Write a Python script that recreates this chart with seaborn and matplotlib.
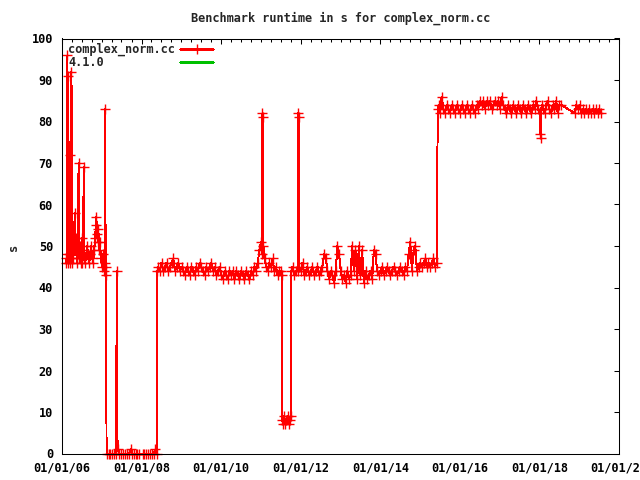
import matplotlib
matplotlib.use("Agg")
import matplotlib.pyplot as plt
import matplotlib.dates as mdates
import pandas as pd
import seaborn as sns

# benchmark runs, grouped by era
dates_2006 = [
    "2006-02-06", "2006-02-09", "2006-02-13", "2006-02-20", "2006-02-24", "2006-02-28",
    "2006-03-05", "2006-03-11", "2006-03-20", "2006-03-23", "2006-03-29", "2006-04-03",
    "2006-04-10", "2006-04-16", "2006-04-21", "2006-04-28", "2006-05-04", "2006-05-09",
    "2006-05-16", "2006-05-22", "2006-05-27", "2006-06-02", "2006-06-08", "2006-06-14",
    "2006-06-20", "2006-06-26", "2006-07-01", "2006-07-07", "2006-07-14", "2006-07-19",
    "2006-07-25", "2006-08-03", "2006-08-12", "2006-08-21", "2006-08-30", "2006-09-08",
    "2006-09-17", "2006-09-26", "2006-10-05", "2006-10-14", "2006-10-23", "2006-11-01",
    "2006-11-07", "2006-11-12", "2006-11-19", "2006-11-25", "2006-12-01", "2006-12-07",
    "2006-12-16", "2006-12-25", "2007-01-03", "2007-01-12", "2007-01-21", "2007-01-27",
    "2007-02-01", "2007-02-06", "2007-02-10",
]
runtime_2006 = [
    47, 46, 48, 96, 46, 91,
    48, 46, 72, 47, 92, 46,
    50, 47, 52, 58, 49, 52,
    46, 51, 48, 70, 47, 50,
    46, 48, 52, 46, 49, 69,
    47, 46, 48, 50, 47, 46,
    48, 50, 47, 46, 49, 52,
    55, 57, 53, 51, 54, 49,
    51, 47, 45, 48, 44, 46,
    83, 43, 45,
]

dates_2007 = [
    "2007-02-14", "2007-03-04", "2007-03-22", "2007-04-09", "2007-04-27", "2007-05-12",
    "2007-05-19", "2007-05-26", "2007-06-12", "2007-06-30", "2007-07-18", "2007-08-05",
    "2007-08-23", "2007-09-10", "2007-09-24", "2007-10-06", "2007-10-24", "2007-11-08",
    "2007-11-24", "2007-12-10", "2008-01-10", "2008-01-26", "2008-02-12", "2008-02-28",
    "2008-03-17", "2008-04-04", "2008-04-22", "2008-05-08", "2008-05-18",
]
runtime_2007 = [
    0, 0, 0, 0, 0, 0,
    44, 1, 0, 0, 0, 0,
    0, 0, 1, 0, 0, 0,
    0, 0, 0, 0, 0, 0,
    0, 0, 0, 1, 0,
]

dates_2008 = [
    "2008-05-26", "2008-06-03", "2008-06-18", "2008-07-03", "2008-07-18", "2008-08-03",
    "2008-08-18", "2008-09-03", "2008-09-18", "2008-10-03", "2008-10-18", "2008-11-03",
    "2008-11-18", "2008-12-03", "2008-12-18", "2009-01-03", "2009-01-18", "2009-02-03",
    "2009-02-18", "2009-03-03", "2009-03-18", "2009-04-03", "2009-04-18", "2009-05-03",
    "2009-05-18", "2009-06-03", "2009-06-18", "2009-07-03", "2009-07-18", "2009-08-03",
    "2009-08-18", "2009-09-03", "2009-09-18", "2009-10-03", "2009-10-18", "2009-11-03",
    "2009-11-18", "2009-12-03", "2009-12-18", "2010-01-03", "2010-01-18", "2010-02-03",
    "2010-02-18", "2010-03-03", "2010-03-18", "2010-04-03", "2010-04-18", "2010-05-03",
    "2010-05-18", "2010-06-03", "2010-06-18", "2010-07-03", "2010-07-18", "2010-08-03",
    "2010-08-18", "2010-09-03", "2010-09-18", "2010-10-03", "2010-10-18", "2010-11-03",
    "2010-11-18", "2010-12-03", "2010-12-18", "2011-01-03", "2011-01-10", "2011-01-15",
    "2011-01-18", "2011-01-24", "2011-02-03", "2011-02-18", "2011-03-03", "2011-03-18",
    "2011-04-03", "2011-04-18", "2011-05-03", "2011-05-18", "2011-06-03", "2011-06-18",
    "2011-07-03", "2011-07-10",
]
runtime_2008 = [
    44, 45, 44, 46, 44, 45,
    46, 44, 45, 46, 47, 44,
    45, 46, 44, 45, 44, 43,
    45, 44, 43, 45, 44, 43,
    45, 44, 46, 45, 44, 43,
    45, 44, 45, 46, 44, 45,
    43, 44, 45, 43, 42, 44,
    43, 42, 44, 43, 44, 42,
    44, 43, 42, 44, 43, 42,
    44, 43, 42, 44, 43, 45,
    44, 46, 49, 51, 48, 82,
    81, 50, 47, 45, 44, 46,
    45, 47, 44, 45, 43, 44,
    44, 43,
]

dates_2011 = [
    "2011-07-14", "2011-07-24", "2011-08-03", "2011-08-13", "2011-08-23", "2011-09-02",
    "2011-09-12", "2011-09-22", "2011-10-02",
]
runtime_2011 = [8, 7, 9, 7, 8, 9, 7, 8, 9]

dates_2012 = [
    "2011-10-08", "2011-10-18", "2011-11-03", "2011-11-18", "2011-12-03", "2011-12-08",
    "2011-12-13", "2011-12-18", "2012-01-03", "2012-01-18", "2012-02-03", "2012-02-18",
    "2012-03-03", "2012-03-18", "2012-04-03", "2012-04-18", "2012-05-03", "2012-05-18",
    "2012-06-03", "2012-06-18", "2012-07-03", "2012-07-18", "2012-08-03", "2012-08-18",
    "2012-09-03", "2012-09-18", "2012-10-03", "2012-10-18", "2012-11-03", "2012-11-18",
    "2012-12-03", "2012-12-18", "2013-01-03", "2013-01-18", "2013-02-03", "2013-02-18",
    "2013-03-03", "2013-03-18", "2013-04-03", "2013-04-18", "2013-05-03", "2013-05-18",
    "2013-06-03", "2013-06-18", "2013-07-03", "2013-07-18", "2013-08-03", "2013-08-18",
    "2013-09-03", "2013-09-18", "2013-10-03", "2013-10-18", "2013-11-03", "2013-11-18",
    "2013-12-03", "2013-12-18", "2014-01-03", "2014-01-18", "2014-02-03", "2014-02-18",
    "2014-03-03", "2014-03-18", "2014-04-03", "2014-04-18", "2014-05-03", "2014-05-18",
    "2014-06-03", "2014-06-18", "2014-07-03", "2014-07-18", "2014-08-03", "2014-08-18",
    "2014-09-03", "2014-09-18", "2014-10-03", "2014-10-18", "2014-11-03", "2014-11-18",
    "2014-12-03", "2014-12-18", "2015-01-03", "2015-01-18", "2015-02-03", "2015-02-18",
    "2015-03-03", "2015-03-18", "2015-04-03", "2015-04-18", "2015-05-03", "2015-05-18",
    "2015-06-03",
]
runtime_2012 = [
    44, 45, 43, 44, 44, 82,
    81, 45, 44, 46, 43, 44,
    45, 43, 44, 45, 43, 44,
    45, 43, 44, 45, 48, 47,
    44, 42, 44, 43, 41, 44,
    50, 48, 44, 42, 43, 41,
    44, 42, 43, 50, 44, 49,
    42, 50, 43, 49, 41, 44,
    42, 43, 44, 42, 49, 48,
    44, 43, 44, 45, 43, 44,
    45, 44, 43, 44, 45, 44,
    43, 44, 45, 44, 43, 45,
    44, 48, 51, 44, 49, 50,
    44, 45, 46, 45, 46, 47,
    45, 46, 45, 46, 47, 45,
    46,
]

dates_2015 = [
    "2015-06-12", "2015-06-20", "2015-07-03", "2015-07-18", "2015-08-03", "2015-08-18",
    "2015-09-03", "2015-09-18", "2015-10-03", "2015-10-18", "2015-11-03", "2015-11-18",
    "2015-12-03", "2015-12-18", "2016-01-03", "2016-01-18", "2016-02-03", "2016-02-18",
    "2016-03-03", "2016-03-18", "2016-04-03", "2016-04-18", "2016-05-03", "2016-05-18",
    "2016-06-03", "2016-06-18", "2016-07-03", "2016-07-18", "2016-08-03", "2016-08-18",
    "2016-09-03", "2016-09-18", "2016-10-03", "2016-10-18", "2016-11-03", "2016-11-18",
    "2016-12-03", "2016-12-18", "2017-01-03", "2017-01-18", "2017-02-03", "2017-02-18",
    "2017-03-03", "2017-03-18", "2017-04-03", "2017-04-18", "2017-05-03", "2017-05-18",
    "2017-06-03", "2017-06-18", "2017-07-03", "2017-07-18", "2017-08-03", "2017-08-18",
    "2017-09-03", "2017-09-18", "2017-10-03", "2017-10-18", "2017-11-03", "2017-11-18",
    "2017-12-03", "2017-12-18", "2018-01-03", "2018-01-10", "2018-01-13", "2018-01-20",
    "2018-02-03", "2018-02-18", "2018-03-03", "2018-03-18", "2018-04-03", "2018-04-18",
    "2018-05-03", "2018-05-18", "2018-06-03", "2018-06-18", "2018-07-03", "2018-07-20",
]
runtime_2015 = [
    83, 84, 82, 86, 83, 82,
    84, 83, 82, 84, 83, 82,
    84, 83, 82, 84, 83, 82,
    84, 83, 82, 84, 83, 82,
    84, 83, 85, 84, 85, 83,
    85, 84, 85, 83, 84, 85,
    84, 85, 83, 86, 84, 83,
    82, 84, 83, 82, 84, 83,
    82, 84, 83, 82, 84, 83,
    82, 84, 83, 82, 84, 83,
    85, 83, 82, 77, 76, 84,
    83, 82, 84, 85, 83, 82,
    84, 83, 85, 82, 84, 84,
]

dates_2019 = [
    "2018-11-20", "2018-12-05", "2018-12-20", "2019-01-05", "2019-01-20", "2019-02-03",
    "2019-02-18", "2019-03-05", "2019-03-20", "2019-04-03", "2019-04-18", "2019-05-03",
    "2019-05-18", "2019-06-03", "2019-06-18", "2019-07-03", "2019-07-18",
]
runtime_2019 = [82, 84, 83, 84, 82, 83, 82, 83, 82, 83, 82, 83, 82, 83, 82, 83, 82]

title = "Benchmark runtime in s for complex_norm.cc"
series_labels = ["complex_norm.cc", "4.1.0"]
series_colors = ["#ff0000", "#00c000"]
y_ticks = list(range(0, 101, 10))

all_dates = dates_2006 + dates_2007 + dates_2008 + dates_2011 + dates_2012 + dates_2015 + dates_2019
all_runtime = runtime_2006 + runtime_2007 + runtime_2008 + runtime_2011 + runtime_2012 + runtime_2015 + runtime_2019
df = pd.DataFrame({"date": pd.to_datetime(all_dates), "s": all_runtime})

sns.set_style("white")
plt.rcParams["font.family"] = ["DejaVu Sans Mono"]
plt.rcParams["font.weight"] = "bold"
plt.rcParams["font.size"] = 8.6

fig = plt.figure(figsize=(6.4, 4.8), dpi=100)
ax = fig.add_axes([62 / 640, 26.5 / 480, 557 / 640, 415 / 480])

sns.lineplot(
    data=df, x="date", y="s", ax=ax, estimator=None, sort=False, legend=False,
    color=series_colors[0], marker="+", markersize=7, markeredgewidth=1.0,
    markeredgecolor=series_colors[0], linewidth=0.7, clip_on=False, antialiased=False,
)

ax.set_xlim(pd.Timestamp("2006-01-01"), pd.Timestamp("2020-01-01"))
ax.set_ylim(0, 100)
ax.set_yticks(y_ticks)
ax.xaxis.set_major_locator(mdates.YearLocator(2))
ax.xaxis.set_minor_locator(mdates.MonthLocator(bymonth=[1, 4, 7, 10]))
ax.xaxis.set_major_formatter(mdates.DateFormatter("%m/%d/%y"))
ax.tick_params(which="both", direction="in", top=True, right=True, width=0.75, colors="black")
ax.tick_params(which="major", length=3.6, pad=6.5, labelsize=8.6)
ax.tick_params(axis="x", which="major", pad=5.5)
ax.tick_params(which="minor", length=1.8)
for side in ax.spines.values():
    side.set_linewidth(0.75)
    side.set_color("black")
ax.set_xlabel("")
ax.set_ylabel("")

fig.text(340.5 / 640, 1 - 18 / 480, title, ha="center", va="center", fontsize=8.6, fontweight="bold")
fig.text(13.5 / 640, 1 - 247.5 / 480, "s", rotation=90, ha="center", va="center", fontsize=8.6, fontweight="bold")

# key in the top-left corner: text first, sample line on the right
key_rows = [0.974, 0.943]
for label, color, row in zip(series_labels, series_colors, key_rows):
    ax.text(0.0108, row, label, transform=ax.transAxes, ha="left", va="center",
            fontsize=8.6, fontweight="bold")
    ax.plot([0.2118, 0.2711], [row, row], transform=ax.transAxes, color=color,
            linewidth=1.0, antialiased=False)
ax.plot([0.2415], [key_rows[0]], transform=ax.transAxes, color=series_colors[0],
        marker="+", markersize=7, markeredgewidth=1.0, antialiased=False)

fig.savefig("out.png", dpi=100)
